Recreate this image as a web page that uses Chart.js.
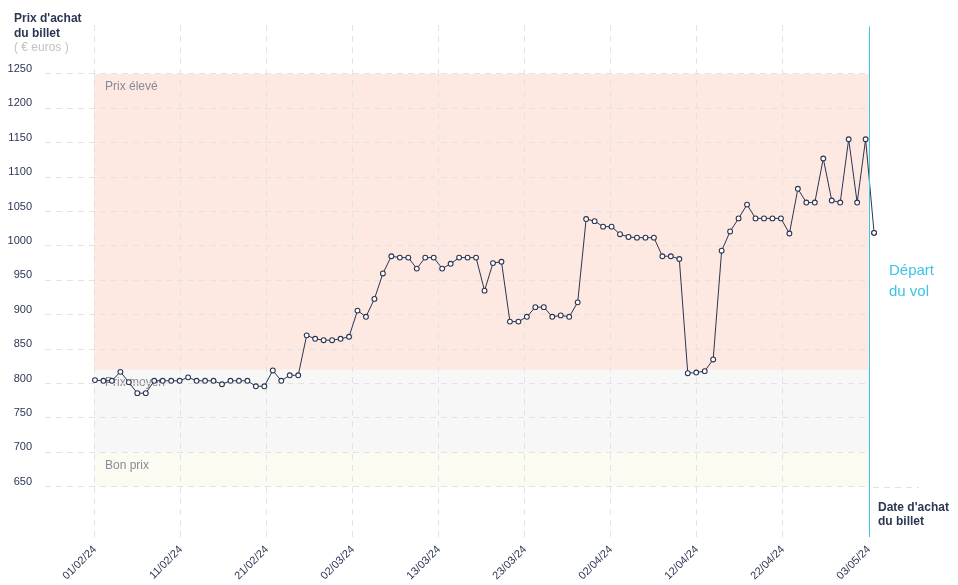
<!DOCTYPE html>
<html>
<head>
<meta charset="utf-8">
<script src="https://cdn.jsdelivr.net/npm/chart.js@4/dist/chart.umd.min.js"></script>
<style>
  html, body { margin: 0; padding: 0; background: #fff; }
  #wrap { width: 958px; height: 585px; position: relative; }
</style>
</head>
<body>
<div id="wrap"><canvas id="chart"></canvas></div>
<script>
// prix du billet, un point par jour d'achat
const prices = [
  805, 804, 804, 817, 802, 786, 786, 804, 804, 804,
  804, 809, 804, 804, 804, 799, 804, 804, 804, 796,
  796, 819, 804, 812, 812, 870, 865, 863, 863, 865,
  868, 906, 897, 923, 960, 985, 983, 983, 967, 983,
  983, 967, 974, 983, 983, 983, 935, 975, 977, 890,
  890, 897, 911, 911, 897, 899, 897, 918, 1039, 1036,
  1028, 1028, 1017, 1013, 1012, 1012, 1012, 985, 985, 981,
  815, 816, 818, 835, 993, 1021, 1040, 1060, 1040, 1040,
  1040, 1040, 1018, 1083, 1063, 1063, 1127, 1066, 1063, 1155,
  1063, 1155, 1019
];

const tickLabels = ["01/02/24", "11/02/24", "21/02/24", "02/03/24", "13/03/24",
  "23/03/24", "02/04/24", "12/04/24", "22/04/24", "03/05/24"];

const yTicks = [650, 700, 750, 800, 850, 900, 950, 1000, 1050, 1100, 1150, 1200, 1250];

// zones de prix
const bandNames = ["Prix élevé", "Prix moyen", "Bon prix"];
const bandLow = [820, 700, 650];
const bandHigh = [1250, 820, 700];
const bandColors = ["#fde8e2", "#f7f7f7", "#fbfbf2"];

const X_MIN = -5.9;
const X_MAX = 91.4;
const NAVY = "#2b3652";
const CYAN = "#3ec3e6";
const FONT = "'Liberation Sans', Arial, sans-serif";

const points = prices.map((p, i) => ({ x: i, y: p }));

// bandes colorées + textes
const bandsPlugin = {
  id: "bands",
  beforeDraw(chart) {
    const { ctx, chartArea, scales } = chart;
    const x0 = scales.x.getPixelForValue(0) - 1;
    ctx.save();
    for (let i = 0; i < bandNames.length; i++) {
      const top = scales.y.getPixelForValue(bandHigh[i]);
      const bot = scales.y.getPixelForValue(bandLow[i]);
      ctx.fillStyle = bandColors[i];
      ctx.fillRect(x0, top, chartArea.right - x0, bot - top);
      ctx.fillStyle = "#8a8a94";
      ctx.font = "12px " + FONT;
      ctx.textBaseline = "middle";
      ctx.fillText(bandNames[i], x0 + 11, top + 13);
    }
    ctx.restore();
  },
  afterDatasetsDraw(chart) {
    // points hors zone (après le départ) : Chart.js les saute
    const meta = chart.getDatasetMeta(0);
    const area = chart.chartArea;
    meta.data.forEach(pt => {
      if (pt.x > area.right) pt.draw(chart.ctx);
    });
  },
  afterDraw(chart) {
    const { ctx, chartArea, scales } = chart;
    ctx.save();
    // ligne départ du vol
    ctx.strokeStyle = CYAN;
    ctx.lineWidth = 1;
    ctx.beginPath();
    ctx.moveTo(chartArea.right + 0.5, chartArea.top + 2);
    ctx.lineTo(chartArea.right + 0.5, chartArea.bottom);
    ctx.stroke();

    // prolongement de la ligne 650
    const y650 = Math.round(scales.y.getPixelForValue(650)) + 0.5;
    ctx.strokeStyle = "#e1e1e1";
    ctx.setLineDash([6, 5]);
    ctx.beginPath();
    ctx.moveTo(chartArea.right + 4, y650);
    ctx.lineTo(chartArea.right + 50, y650);
    ctx.stroke();
    ctx.setLineDash([]);

    ctx.textBaseline = "middle";
    ctx.textAlign = "left";
    ctx.fillStyle = NAVY;
    ctx.font = "bold 12px " + FONT;
    ctx.fillText("Prix d'achat", 14, 19);
    ctx.fillText("du billet", 14, 34);
    ctx.fillText("Date d'achat", 878, 508);
    ctx.fillText("du billet", 878, 522);
    ctx.font = "12px " + FONT;
    ctx.fillStyle = "#c2c2c2";
    ctx.fillText("( € euros )", 14, 48);
    ctx.fillStyle = CYAN;
    ctx.font = "15px " + FONT;
    ctx.fillText("Départ", 889, 271);
    ctx.fillText("du vol", 889, 292);
    ctx.restore();
  }
};

new Chart(document.getElementById("chart"), {
  type: "line",
  data: {
    datasets: [{
      data: points,
      borderColor: NAVY,
      borderWidth: 1,
      pointRadius: 2.4,
      pointBackgroundColor: "#fff",
      pointBorderColor: NAVY,
      pointBorderWidth: 1.1,
      tension: 0,
      clip: false
    }]
  },
  options: {
    responsive: true,
    maintainAspectRatio: false,
    animation: false,
    layout: { padding: { top: 25, right: 89, left: 0, bottom: 0 } },
    plugins: {
      legend: { display: false },
      tooltip: { enabled: false }
    },
    scales: {
      x: {
        type: "linear",
        min: X_MIN,
        max: X_MAX,
        afterBuildTicks(scale) {
          scale.ticks = tickLabels.map((l, k) => ({ value: k * X_MAX / (tickLabels.length - 1) }));
        },
        afterFit(scale) { scale.height = 48; },
        border: { display: false, dash: [6, 5] },
        grid: { color: "#e3e3e3", drawTicks: false },
        ticks: {
          autoSkip: false,
          minRotation: 45,
          maxRotation: 45,
          padding: 6,
          color: NAVY,
          font: { family: FONT, size: 11 },
          callback: (v, i) => tickLabels[i]
        }
      },
      y: {
        min: 577,
        max: 1321,
        afterBuildTicks(scale) {
          scale.ticks = yTicks.map(v => ({ value: v }));
        },
        afterFit(scale) { scale.width = 45; },
        border: { display: false, dash: [6, 5] },
        grid: { color: "#e3e3e3", drawTicks: false },
        ticks: {
          padding: 13,
          labelOffset: -5,
          color: NAVY,
          font: { family: FONT, size: 11 },
          callback: v => String(v)
        }
      }
    }
  },
  plugins: [bandsPlugin]
});
</script>
</body>
</html>
